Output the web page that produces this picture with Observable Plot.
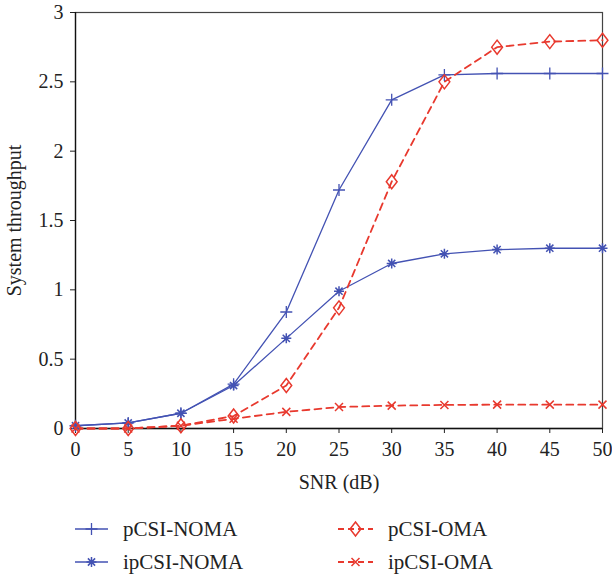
<!DOCTYPE html>
<html>
<head>
<meta charset="utf-8">
<script src="https://cdn.jsdelivr.net/npm/d3@7"></script>
<script src="https://cdn.jsdelivr.net/npm/@observablehq/plot@0.6"></script>
<style>
  body { margin: 0; background: #fff; }
  #wrap { position: relative; width: 612px; height: 578px; }
  #wrap svg text { font-family: "Liberation Serif", "DejaVu Serif", serif; }
</style>
</head>
<body>
<div id="wrap"></div>
<script>
const snr = [0, 5, 10, 15, 20, 25, 30, 35, 40, 45, 50];
const pcsiNoma  = [0.02, 0.04, 0.11, 0.32, 0.84, 1.72, 2.37, 2.55, 2.56, 2.56, 2.56];
const ipcsiNoma = [0.02, 0.04, 0.11, 0.31, 0.65, 0.99, 1.19, 1.26, 1.29, 1.30, 1.30];
const pcsiOma   = [0.00, 0.00, 0.02, 0.09, 0.31, 0.87, 1.78, 2.50, 2.75, 2.79, 2.80];
const ipcsiOma  = [0.00, 0.00, 0.02, 0.07, 0.12, 0.155, 0.165, 0.17, 0.172, 0.172, 0.172];
const seriesNames = ["pCSI-NOMA", "ipCSI-NOMA", "pCSI-OMA", "ipCSI-OMA"];
const xTicks = [0, 5, 10, 15, 20, 25, 30, 35, 40, 45, 50];
const yTicks = [0, 0.5, 1, 1.5, 2, 2.5, 3];

const BLUE = "#4352b3";
const RED = "#e8392e";
const FONT = "Liberation Serif, DejaVu Serif, serif";

const rOf = (size) => Math.sqrt(size / Math.PI);
const symPlus = { draw(c, s) { const h = rOf(s) * 1.5; c.moveTo(-h, 0); c.lineTo(h, 0); c.moveTo(0, -h); c.lineTo(0, h); } };
const symAst = { draw(c, s) { const h = rOf(s) * 1.25; c.moveTo(-h, 0); c.lineTo(h, 0); c.moveTo(0, -h); c.lineTo(0, h);
  const d = h * 0.72; c.moveTo(-d, -d); c.lineTo(d, d); c.moveTo(-d, d); c.lineTo(d, -d); } };
const symDia = { draw(c, s) { const w = rOf(s) * 1.35, h = rOf(s) * 1.75; c.moveTo(0, -h); c.lineTo(w, 0); c.lineTo(0, h); c.lineTo(-w, 0); c.closePath(); } };
const symTimes = { draw(c, s) { const d = rOf(s) * 1.0; c.moveTo(-d, -d); c.lineTo(d, d); c.moveTo(-d, d); c.lineTo(d, -d); } };

const mk = (vals) => snr.map((x, i) => ({ x, y: vals[i] }));
const d1 = mk(pcsiNoma), d2 = mk(ipcsiNoma), d3s = mk(pcsiOma), d4 = mk(ipcsiOma);

const plot = Plot.plot({
  width: 612,
  height: 500,
  marginLeft: 75,
  marginRight: 10,
  marginTop: 12,
  marginBottom: 72,
  style: { fontFamily: FONT, fontSize: "20px", color: "#222", background: "#fff", overflow: "visible" },
  x: { domain: [0, 50] },
  y: { domain: [0, 3] },
  marks: [
    Plot.frame({ stroke: "#444", strokeWidth: 1.2 }),
    Plot.axisX({ ticks: xTicks, tickSize: 5, tickPadding: 8, tickFormat: d => String(d), fontSize: 20, fontFamily: FONT,
      label: "SNR (dB)", labelAnchor: "center", labelArrow: "none", labelOffset: 60 }),
    Plot.axisY({ ticks: yTicks, tickSize: 5, tickPadding: 7, tickFormat: d => String(d), fontSize: 20, fontFamily: FONT,
      label: "System throughput", labelAnchor: "center", labelArrow: "none", labelOffset: 69 }),
    Plot.ruleX([0], { stroke: "#111", strokeWidth: 1.3 }),
    Plot.ruleY([0], { stroke: "#111", strokeWidth: 1.3 }),
    Plot.line(d2, { x: "x", y: "y", stroke: BLUE, strokeWidth: 1.3 }),
    Plot.line(d1, { x: "x", y: "y", stroke: BLUE, strokeWidth: 1.3 }),
    Plot.line(d4, { x: "x", y: "y", stroke: RED, strokeWidth: 1.8, strokeDasharray: "7,5" }),
    Plot.line(d3s, { x: "x", y: "y", stroke: RED, strokeWidth: 1.8, strokeDasharray: "7,5" }),
    Plot.dot(d1, { x: "x", y: "y", symbol: symPlus, r: 4, stroke: BLUE, strokeWidth: 1.3, fill: "none" }),
    Plot.dot(d2, { x: "x", y: "y", symbol: symAst, r: 4, stroke: BLUE, strokeWidth: 1.5, fill: "none" }),
    Plot.dot(d3s, { x: "x", y: "y", symbol: symDia, r: 4, stroke: RED, strokeWidth: 1.5, fill: "none" }),
    Plot.dot(d4, { x: "x", y: "y", symbol: symTimes, r: 4, stroke: RED, strokeWidth: 1.5, fill: "none" })
  ]
});
document.getElementById("wrap").appendChild(plot);

// Legend below the chart
const NS = "http://www.w3.org/2000/svg";
const leg = document.createElementNS(NS, "svg");
leg.setAttribute("width", 612);
leg.setAttribute("height", 578);
leg.style.position = "absolute";
leg.style.left = "0px";
leg.style.top = "0px";
leg.style.pointerEvents = "none";
document.getElementById("wrap").appendChild(leg);
const items = [
  { name: seriesNames[0], x0: 75, x1: 108, y: 529, color: BLUE, dash: null, sym: symPlus, sw: 1.3 },
  { name: seriesNames[1], x0: 75, x1: 108, y: 562, color: BLUE, dash: null, sym: symAst, sw: 1.5 },
  { name: seriesNames[2], x0: 338, x1: 373, y: 529, color: RED, dash: "6,4", sym: symDia, sw: 1.5 },
  { name: seriesNames[3], x0: 338, x1: 373, y: 562, color: RED, dash: "6,4", sym: symTimes, sw: 1.5 }
];
for (const it of items) {
  const ln = document.createElementNS(NS, "line");
  ln.setAttribute("x1", it.x0); ln.setAttribute("x2", it.x1);
  ln.setAttribute("y1", it.y); ln.setAttribute("y2", it.y);
  ln.setAttribute("stroke", it.color);
  ln.setAttribute("stroke-width", it.dash ? 1.8 : 1.3);
  if (it.dash) ln.setAttribute("stroke-dasharray", it.dash);
  leg.appendChild(ln);
  const p = d3.path();
  it.sym.draw(p, 16 * Math.PI);
  const path = document.createElementNS(NS, "path");
  path.setAttribute("d", p.toString());
  path.setAttribute("transform", `translate(${(it.x0 + it.x1) / 2},${it.y})`);
  path.setAttribute("fill", "none");
  path.setAttribute("stroke", it.color);
  path.setAttribute("stroke-width", it.sw);
  leg.appendChild(path);
  const t = document.createElementNS(NS, "text");
  t.setAttribute("x", it.x1 + 15);
  t.setAttribute("y", it.y);
  t.setAttribute("dy", "0.35em");
  t.setAttribute("font-family", FONT);
  t.setAttribute("font-size", "21px");
  t.setAttribute("fill", "#222");
  t.textContent = it.name;
  leg.appendChild(t);
}
</script>
</body>
</html>
